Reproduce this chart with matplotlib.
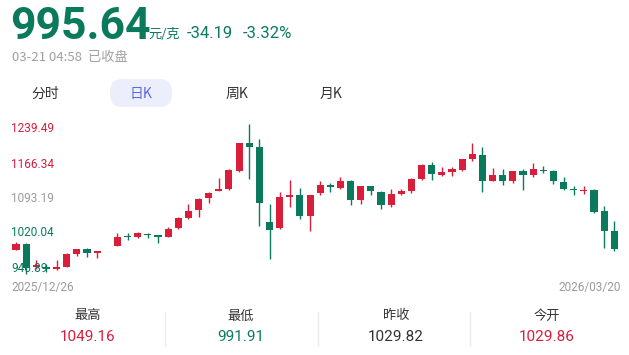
import matplotlib
matplotlib.use("Agg")
import matplotlib.pyplot as plt
from matplotlib.patches import FancyBboxPatch, Rectangle
import numpy as np

plt.rcParams['font.family'] = ['Noto Sans CJK SC', 'DejaVu Sans']

# ---------------- data ----------------
price_now = "995.64"
unit = "元/克"
change = "-34.19"
change_pct = "-3.32%"
status_time = "03-21 04:58"
status_text = "已收盘"
tabs = ["分时", "日K", "周K", "月K"]
active_tab = "日K"
axis_labels = ["1239.49", "1166.34", "1093.19", "1020.04", "946.89"]
start_date = "2025/12/26"
end_date = "2026/03/20"
stat_names = ["最高", "最低", "昨收", "今开"]
stat_values = ["1049.16", "991.91", "1029.82", "1029.86"]

# daily candles (None = empty slot)
opens = [993.7, 1005.5, 960.4, 959.8, 956.5, 959.8, 984.6, 995.0, 987.2, None,
         1000.3, 1020.5, 1017.9, 1024.5, 1022.5, 1019.2, 1036.2, 1055.8, 1071.5, 1095.0,
         1109.4, 1112.0, 1147.3, 1202.1, 1195.0, 1047.3, 1036.2, 1097.0, 1100.2, 1059.1,
         1104.8, 1121.1, 1114.6, 1127.7, 1091.7, 1117.9, 1106.8, 1081.9, 1102.8, 1108.1,
         1132.2, 1160.3, 1140.7, 1146.0, 1149.2, 1171.4, 1179.9, 1129.0, 1139.4, 1127.7,
         1148.6, 1140.7, 1150.5, 1148.6, 1126.4, 1112.6, 1109.4, 1111.3, 1068.9, 1029.86]
highs = [1008.8, 1006.8, 974.1, 965.6, 974.1, 987.2, 995.7, 996.4, 991.8, None,
         1025.8, 1026.4, 1028.4, 1026.4, 1022.5, 1038.2, 1057.1, 1083.2, 1095.0, 1106.8,
         1133.6, 1151.8, 1203.5, 1239.49, 1210.6, 1083.2, 1106.8, 1130.3, 1114.6, 1101.5,
         1127.7, 1124.4, 1135.5, 1130.9, 1117.9, 1117.9, 1108.1, 1112.6, 1113.3, 1134.2,
         1161.6, 1164.9, 1156.4, 1156.4, 1172.1, 1202.8, 1194.3, 1153.8, 1151.8, 1147.3,
         1152.5, 1163.0, 1158.4, 1150.5, 1136.2, 1117.9, 1117.9, 1112.6, 1078.7, 1049.16]
lows = [992.4, 946.89, 956.5, 950.0, 954.5, 959.0, 981.3, 980.0, 977.4, None,
        1000.3, 1013.3, 1016.6, 1016.6, 1006.2, 1019.2, 1034.3, 1054.5, 1057.8, 1085.9,
        1109.4, 1110.7, 1146.0, 1132.9, 1040.8, 976.1, 1034.9, 1076.7, 1054.5, 1031.0,
        1101.5, 1106.8, 1113.3, 1081.9, 1083.9, 1101.5, 1074.1, 1076.7, 1100.2, 1105.5,
        1130.9, 1130.3, 1137.5, 1138.8, 1147.3, 1168.2, 1106.8, 1127.7, 1121.1, 1123.8,
        1111.3, 1135.5, 1144.0, 1122.4, 1111.3, 1101.5, 1102.8, 1065.6, 997.0, 991.91]
closes = [1004.8, 957.8, 964.3, 956.5, 959.1, 985.2, 995.0, 987.2, 991.8, None,
          1018.6, 1018.6, 1025.8, 1022.5, 1019.2, 1034.3, 1055.8, 1070.2, 1093.7, 1105.5,
          1112.6, 1149.9, 1202.1, 1195.0, 1085.2, 1032.9, 1097.0, 1100.9, 1059.1, 1101.5,
          1121.1, 1115.9, 1127.7, 1091.7, 1117.9, 1108.1, 1081.9, 1102.8, 1108.1, 1132.9,
          1160.3, 1142.0, 1146.0, 1151.2, 1170.8, 1181.2, 1129.0, 1140.7, 1127.7, 1147.3,
          1140.7, 1151.8, 1148.6, 1127.7, 1113.3, 1110.7, 1111.3, 1067.6, 1029.82, 995.64]

# ---------------- style ----------------
RED = '#d91e3c'
GREEN = '#0b7a5c'
GRAY = '#9a9a9a'
W, H = 629, 355

fig = plt.figure(figsize=(W / 100, H / 100), dpi=100)
fig.patch.set_facecolor('white')


def P(x, y):
    return x / W, 1 - y / H


# ---------------- header ----------------
fig.text(*P(10, 39), price_now, fontsize=32, fontweight='bold', color=GREEN,
         family=['Roboto', 'DejaVu Sans'], va='baseline', ha='left')
fig.text(*P(148, 38), unit, fontsize=9.5, color=GREEN, va='baseline', ha='left')
fig.text(*P(187, 38), change, fontsize=12, color=GREEN,
         family=['Roboto', 'DejaVu Sans'], va='baseline', ha='left')
fig.text(*P(243, 38), change_pct, fontsize=12, color=GREEN,
         family=['Roboto', 'DejaVu Sans'], va='baseline', ha='left')
fig.text(*P(12, 57), status_time + "  " + status_text, fontsize=9.5, color='#a0a0a0',
         va='center', ha='left')

# tabs
tab_x = [45, 141, 237, 331]
bg = FancyBboxPatch(P(110, 107), 62 / W, 28 / H, boxstyle="round,pad=0,rounding_size=0.02",
                    transform=fig.transFigure, facecolor='#eceffb', edgecolor='none',
                    mutation_aspect=W / H)
fig.patches.append(bg)
for t, x in zip(tabs, tab_x):
    fig.text(*P(x, 94), t, fontsize=10, color='#5a6be0' if t == active_tab else '#333333',
             ha='center', va='center')

# ---------------- candles ----------------
ax = fig.add_axes([0, 1 - 280 / H, 1, 180 / H])
ax.set_axis_off()
n = len(opens)
idx = np.arange(n)
# pixel mapping: slot 0 at x=16, spacing 10.14 px
x0, dx = 16.0, 10.14
ax.set_xlim(-x0 / dx, (W - x0) / dx)


def ypx_to_price(y):
    return 995.64 + (248.7 - y) * 1.96


ax.set_ylim(ypx_to_price(280), ypx_to_price(100))
bw = 0.7
for i in idx:
    o, h, l, c = opens[i], highs[i], lows[i], closes[i]
    if o is None:
        continue
    col = RED if c >= o else GREEN
    ax.vlines(i, l, h, color=col, linewidth=1.0)
    bottom = min(o, c)
    height = max(abs(c - o), 1.2)
    ax.add_patch(Rectangle((i - bw / 2, bottom), bw, height, facecolor=col,
                           edgecolor='none'))

# y labels
label_y = [129, 164, 198, 233, 268]
label_col = [RED, RED, GRAY, GREEN, GREEN]
for t, y, c in zip(axis_labels, label_y, label_col):
    fig.text(*P(11, y), t, fontsize=8.5, color=c, ha='left', va='center',
             family=['Roboto', 'DejaVu Sans'])

fig.text(*P(11, 287), start_date, fontsize=8.5, color=GRAY, ha='left', va='center',
         family=['Roboto', 'DejaVu Sans'])
fig.text(*P(621, 287), end_date, fontsize=8.5, color=GRAY, ha='right', va='center',
         family=['Roboto', 'DejaVu Sans'])

# ---------------- stats ----------------
stat_x = [88, 241, 396, 547]
stat_col = [RED, GREEN, '#333333', RED]
for name, val, x, c in zip(stat_names, stat_values, stat_x, stat_col):
    fig.text(*P(x, 316), name, fontsize=9.5, color='#333333', ha='center', va='center')
    fig.text(*P(x, 337), val, fontsize=11, color=c, ha='center', va='center',
             family=['Roboto', 'DejaVu Sans'])
for x in [164.5, 318, 470]:
    fig.add_artist(plt.Line2D([x / W, x / W], [1 - 346 / H, 1 - 312 / H],
                              transform=fig.transFigure, color='#ececec', linewidth=1))

fig.savefig('out.png', dpi=100, facecolor='white')
